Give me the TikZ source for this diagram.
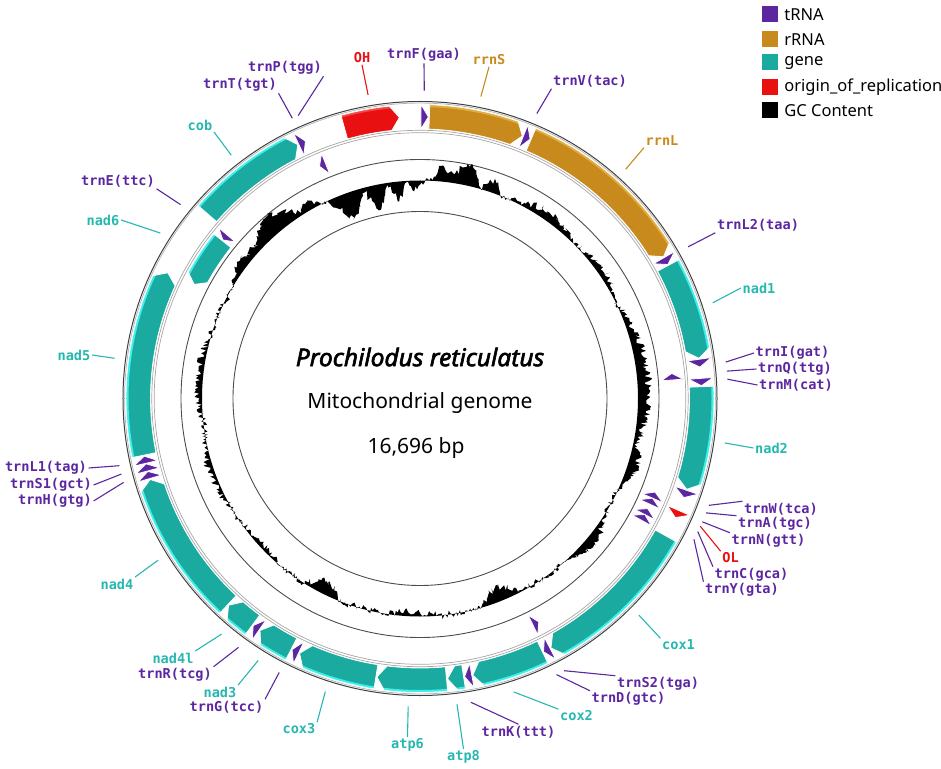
\documentclass[tikz,border=0pt]{standalone}
\usepackage{fontspec}
\setmainfont{Noto Sans}
\newfontfamily\titlefont{Noto Sans}[ItalicFeatures={FakeBold=2.4}]
\newfontfamily\labfont{DejaVu Sans Mono}
\usetikzlibrary{positioning}

\definecolor{trnacol}{RGB}{92,38,160}
\definecolor{rrnacol}{RGB}{200,138,28}
\definecolor{rrnashine}{RGB}{226,172,62}
\definecolor{genecol}{RGB}{26,170,160}
\definecolor{geneshine}{RGB}{60,240,236}
\definecolor{genetext}{RGB}{38,184,176}
\definecolor{oricol}{RGB}{232,16,16}
\definecolor{orishine}{RGB}{244,70,70}

% feature on the outer band, pointing clockwise: start, end (degrees from top), fill, shine
\newcommand{\cwfeat}[4]{%
  \pgfmathsetmacro{\fa}{90-#1}%
  \pgfmathsetmacro{\fb}{90-#2}%
  \pgfmathsetmacro{\fh}{\fb+min(1.8,#2-#1)}%
  \def\featpath{(\fa:269.5pt) -- (\fa:294pt) arc[start angle=\fa, end angle=\fh, radius=294pt]
    -- (\fb:281.75pt) -- (\fh:269.5pt) arc[start angle=\fh, end angle=\fa, radius=269.5pt] -- cycle}%
  \fill[#3] \featpath;
  \begin{scope}\clip \featpath; \draw[#4, line width=3pt] (0,0) circle[radius=293pt];\end{scope}
  \draw[white, line width=0.8pt] \featpath;}

% feature on the inner band, pointing anticlockwise
\newcommand{\ccwfeat}[4]{%
  \pgfmathsetmacro{\fa}{90-#1}%
  \pgfmathsetmacro{\fb}{90-#2}%
  \pgfmathsetmacro{\fh}{\fa-min(1.8,#2-#1)}%
  \def\featpath{(\fb:242pt) -- (\fb:264pt) arc[start angle=\fb, end angle=\fh, radius=264pt]
    -- (\fa:253pt) -- (\fh:242pt) arc[start angle=\fh, end angle=\fb, radius=242pt] -- cycle}%
  \fill[#3] \featpath;
  \begin{scope}\clip \featpath; \draw[#4, line width=3pt] (0,0) circle[radius=263pt];\end{scope}
  \draw[white, line width=0.8pt] \featpath;}

% GC content deviation from the mean
\pgfmathdeclarefunction{gcbump}{4}{\pgfmathparse{#4*(max(0,1-(min(abs(#1-(#2))/#3,2))^2))^2}}
\pgfmathdeclarefunction{gcdev}{1}{\pgfmathparse{gcbump(#1,-52,7,9)+gcbump(#1,-40,10,19)
  +gcbump(#1,-30,3,8)+gcbump(#1,-20,6,-24)+gcbump(#1,-12,4,-22)+gcbump(#1,-6,3,-17)
  +gcbump(#1,-1,2.5,-9)+gcbump(#1,6,4,14)+gcbump(#1,12,5,21)+gcbump(#1,19,3,13)
  +gcbump(#1,35,14,8)+gcbump(#1,55,10,6)+gcbump(#1,85,26,11)+gcbump(#1,108,7,9)
  +gcbump(#1,130,10,8)+gcbump(#1,158,7,-14)+gcbump(#1,183,10,-4)+gcbump(#1,207,6,-13)
  +gcbump(#1,228,10,-4)+gcbump(#1,250,12,5)+gcbump(#1,276,15,5)+4*rand}}

\begin{document}
\begin{tikzpicture}[x=1pt, y=1pt,
	trna lab/.style={font=\labfont\bfseries\fontsize{13.6}{16}\selectfont, text=trnacol, inner sep=1.5pt},
	rrna lab/.style={font=\labfont\bfseries\fontsize{13.6}{16}\selectfont, text=rrnacol, inner sep=1.5pt},
	gene lab/.style={font=\labfont\bfseries\fontsize{13.6}{16}\selectfont, text=genetext, inner sep=1.5pt},
	ori lab/.style={font=\labfont\bfseries\fontsize{13.6}{16}\selectfont, text=oricol, inner sep=1.5pt},
	trna line/.style={draw=trnacol, line width=1.1pt},
	rrna line/.style={draw=rrnacol, line width=1.1pt},
	gene line/.style={draw=genetext, line width=1.1pt},
	ori line/.style={draw=oricol, line width=1.1pt},
	leg box/.style={minimum size=16pt, inner sep=0pt},
	leg text/.style={font=\fontsize{16.5}{20}\selectfont, inner sep=1pt}]
	
	\useasboundingbox (-420,-369.5) rectangle (521,398.5);
	
	% rings
	\draw[black!70, line width=0.9pt] (0,0) circle[radius=187pt];
	\draw[black!70, line width=0.9pt] (0,0) circle[radius=239pt];
	\draw[gray!70, line width=0.7pt] (0,0) circle[radius=265.8pt];
	\draw[gray!70, line width=0.7pt] (0,0) circle[radius=268.2pt];
	\draw[gray!60, line width=0.7pt] (0,0) circle[radius=295.4pt];
	\draw[black!75, line width=1pt] (0,0) circle[radius=297pt];
	
	% GC content
	\pgfmathsetseed{11}
	\fill[black, even odd rule] plot[domain=-60:300, samples=901, variable=\t] ({90-\t}:{218+gcdev(\t)}) -- cycle
		(0,0) circle[radius=218pt];
	
	% features, outer band
	\cwfeat{0.2}{1.7}{trnacol}{trnacol}
	\cwfeat{1.9}{21.3}{rrnacol}{rrnashine}
	\cwfeat{21.5}{23.0}{trnacol}{trnacol}
	\cwfeat{23.2}{59.8}{rrnacol}{rrnashine}
	\cwfeat{60.0}{61.6}{trnacol}{trnacol}
	\cwfeat{61.8}{81.8}{genecol}{geneshine}
	\cwfeat{82.0}{83.6}{trnacol}{trnacol}
	\cwfeat{85.9}{87.4}{trnacol}{trnacol}
	\cwfeat{87.6}{108.8}{genecol}{geneshine}
	\cwfeat{109.0}{110.6}{trnacol}{trnacol}
	\cwfeat{113.4}{115.0}{oricol}{oricol}
	\cwfeat{119.2}{152.3}{genecol}{geneshine}
	\cwfeat{152.5}{154.0}{trnacol}{trnacol}
	\cwfeat{154.2}{169.2}{genecol}{geneshine}
	\cwfeat{169.4}{170.9}{trnacol}{trnacol}
	\cwfeat{171.1}{174.4}{genecol}{geneshine}
	\cwfeat{174.6}{188.8}{genecol}{geneshine}
	\cwfeat{189.0}{205.3}{genecol}{geneshine}
	\cwfeat{205.5}{207.0}{trnacol}{trnacol}
	\cwfeat{207.2}{214.6}{genecol}{geneshine}
	\cwfeat{214.8}{216.3}{trnacol}{trnacol}
	\cwfeat{216.5}{222.8}{genecol}{geneshine}
	\cwfeat{223.0}{253.3}{genecol}{geneshine}
	\cwfeat{253.5}{255.0}{trnacol}{trnacol}
	\cwfeat{255.1}{256.6}{trnacol}{trnacol}
	\cwfeat{256.7}{258.2}{trnacol}{trnacol}
	\cwfeat{258.4}{296.5}{genecol}{geneshine}
	\cwfeat{311.0}{334.3}{genecol}{geneshine}
	\cwfeat{334.5}{336.0}{trnacol}{trnacol}
	\cwfeat{344.4}{355.8}{oricol}{orishine}
	
	% features, inner band
	\ccwfeat{84.3}{85.8}{trnacol}{trnacol}
	\ccwfeat{111.7}{113.2}{trnacol}{trnacol}
	\ccwfeat{113.2}{114.7}{trnacol}{trnacol}
	\ccwfeat{115.8}{117.3}{trnacol}{trnacol}
	\ccwfeat{117.3}{118.8}{trnacol}{trnacol}
	\ccwfeat{152.0}{153.5}{trnacol}{trnacol}
	\ccwfeat{296.8}{308.6}{genecol}{geneshine}
	\ccwfeat{308.8}{310.3}{trnacol}{trnacol}
	\ccwfeat{336.6}{338.1}{trnacol}{trnacol}
	
	% centre
	\node[font=\titlefont\itshape\fontsize{24.5}{29}\selectfont] (title) at (0,41.5) {Prochilodus reticulatus};
	\node[font=\fontsize{21}{25}\selectfont] (subtitle) at (0,-4.5) {Mitochondrial genome};
	\node[font=\fontsize{21}{25}\selectfont] (length) at (-4,-49.5) {16,696 bp};
	
	% leader ends
	\coordinate (e-trnF) at (89.2:308pt);
	\coordinate (e-OH) at (99.7:308pt);
	\coordinate (e-rrnS) at (78.6:308pt);
	\coordinate (e-trnV) at (67.7:308pt);
	\coordinate (e-rrnL) at (48.1:308pt);
	\coordinate (e-trnL2) at (29.5:308pt);
	\coordinate (e-nad1) at (18.1:308pt);
	\coordinate (e-trnI) at (6.8:308pt);
	\coordinate (e-trnQ) at (5.1:308pt);
	\coordinate (e-trnM) at (3.6:308pt);
	\coordinate (e-nad2) at (-8.3:308pt);
	\coordinate (e-trnW) at (-20.3:308pt);
	\coordinate (e-trnA) at (-21.8:308pt);
	\coordinate (e-trnN) at (-23.6:308pt);
	\coordinate (e-OL) at (-24.5:308pt);
	\coordinate (e-trnC) at (-25.6:308pt);
	\coordinate (e-trnY) at (-27.2:308pt);
	\coordinate (e-cox1) at (-44.7:308pt);
	\coordinate (e-trnS2) at (-62.1:308pt);
	\coordinate (e-trnD) at (-63.7:308pt);
	\coordinate (e-cox2) at (-72.3:308pt);
	\coordinate (e-trnK) at (-80.5:308pt);
	\coordinate (e-atp8) at (-83.1:308pt);
	\coordinate (e-atp6) at (-92.2:308pt);
	\coordinate (e-cox3) at (-107.9:308pt);
	\coordinate (e-trnG) at (-117.2:308pt);
	\coordinate (e-nad3) at (-121.7:308pt);
	\coordinate (e-trnR) at (-126.1:308pt);
	\coordinate (e-nad4l) at (-130.1:308pt);
	\coordinate (e-nad4) at (-148.3:308pt);
	\coordinate (e-trnH) at (-164.2:308pt);
	\coordinate (e-trnS1) at (-165.8:308pt);
	\coordinate (e-trnL1) at (-167.4:308pt);
	\coordinate (e-nad5) at (172.5:308pt);
	\coordinate (e-nad6) at (147.5:308pt);
	\coordinate (e-trnE) at (141:308pt);
	\coordinate (e-cob) at (127.8:308pt);
	\coordinate (e-trnT) at (114.5:308pt);
	\coordinate (e-trnP) at (113.3:308pt);
	
	% labels
	\node[trna lab] (l-trnF) at (4,343.5) {trnF(gaa)};
	\node[ori lab] (l-OH) at (-58,340.5) {OH};
	\node[rrna lab] (l-rrnS) at (69,338.5) {rrnS};
	\node[trna lab] (l-trnV) at (170,317.5) {trnV(tac)};
	\node[rrna lab] (l-rrnL) at (242,257.5) {rrnL};
	\node[trna lab] (l-trnL2) at (338,173.5) {trnL2(taa)};
	\node[gene lab] (l-nad1) at (339,110.5) {nad1};
	\node[trna lab] (l-trnI) at (372.5,45.5) {trnI(gat)};
	\node[trna lab] (l-trnQ) at (375,29.5) {trnQ(ttg)};
	\node[trna lab] (l-trnM) at (376,13.5) {trnM(cat)};
	\node[gene lab] (l-nad2) at (351.5,-49.5) {nad2};
	\node[trna lab] (l-trnW) at (361,-110.5) {trnW(tca)};
	\node[trna lab] (l-trnA) at (355,-125.5) {trnA(tgc)};
	\node[trna lab] (l-trnN) at (348.5,-142.5) {trnN(gtt)};
	\node[ori lab] (l-OL) at (310.5,-159.5) {OL};
	\node[trna lab] (l-trnC) at (331.5,-176.5) {trnC(gca)};
	\node[trna lab] (l-trnY) at (322,-191.5) {trnY(gta)};
	\node[gene lab] (l-cox1) at (258.5,-246.5) {cox1};
	\node[trna lab] (l-trnS2) at (238,-285.5) {trnS2(tga)};
	\node[trna lab] (l-trnD) at (208.5,-300.5) {trnD(gtc)};
	\node[gene lab] (l-cox2) at (156.5,-317.5) {cox2};
	\node[trna lab] (l-trnK) at (98.5,-333.5) {trnK(ttt)};
	\node[gene lab] (l-atp8) at (43.5,-358.5) {atp8};
	\node[gene lab] (l-atp6) at (-12.5,-346.5) {atp6};
	\node[gene lab] (l-cox3) at (-121,-330.5) {cox3};
	\node[trna lab] (l-trnG) at (-193.5,-308.5) {trnG(tcc)};
	\node[gene lab] (l-nad3) at (-200,-293.5) {nad3};
	\node[trna lab] (l-trnR) at (-245,-276.5) {trnR(tcg)};
	\node[gene lab] (l-nad4l) at (-247,-259.5) {nad4l};
	\node[gene lab] (l-nad4) at (-303,-185.5) {nad4};
	\node[trna lab] (l-trnH) at (-365,-102.5) {trnH(gtg)};
	\node[trna lab] (l-trnS1) at (-369,-86.5) {trnS1(gct)};
	\node[trna lab] (l-trnL1) at (-374,-69.5) {trnL1(tag)};
	\node[gene lab] (l-nad5) at (-346,43.5) {nad5};
	\node[gene lab] (l-nad6) at (-317,178.5) {nad6};
	\node[trna lab] (l-trnE) at (-302,217.5) {trnE(ttc)};
	\node[gene lab] (l-cob) at (-220,273.5) {cob};
	\node[trna lab] (l-trnT) at (-180,313.5) {trnT(tgt)};
	\node[trna lab] (l-trnP) at (-135,330.5) {trnP(tgg)};
	
	\path (l-trnF.south) edge[trna line] (e-trnF)
	(l-OH.south) edge[ori line] (e-OH)
	(l-rrnS.south) edge[rrna line] (e-rrnS)
	(l-trnV.south west) edge[trna line] (e-trnV)
	(l-rrnL.south west) edge[rrna line] (e-rrnL)
	(l-trnL2.south west) edge[trna line] (e-trnL2)
	(l-nad1.west) edge[gene line] (e-nad1)
	(l-trnI.west) edge[trna line] (e-trnI)
	(l-trnQ.west) edge[trna line] (e-trnQ)
	(l-trnM.west) edge[trna line] (e-trnM)
	(l-nad2.west) edge[gene line] (e-nad2)
	(l-trnW.north west) edge[trna line] (e-trnW)
	(l-trnA.north west) edge[trna line] (e-trnA)
	(l-trnN.north west) edge[trna line] (e-trnN)
	(l-OL.north west) edge[ori line] (e-OL)
	(l-trnC.north west) edge[trna line] (e-trnC)
	(l-trnY.north west) edge[trna line] (e-trnY)
	(l-cox1.north west) edge[gene line] (e-cox1)
	(l-trnS2.north west) edge[trna line] (e-trnS2)
	(l-trnD.north west) edge[trna line] (e-trnD)
	(l-cox2.north west) edge[gene line] (e-cox2)
	(l-trnK.north) edge[trna line] (e-trnK)
	(l-atp8.north) edge[gene line] (e-atp8)
	(l-atp6.north) edge[gene line] (e-atp6)
	(l-cox3.north east) edge[gene line] (e-cox3)
	(l-trnG.north east) edge[trna line] (e-trnG)
	(l-nad3.north east) edge[gene line] (e-nad3)
	(l-trnR.north east) edge[trna line] (e-trnR)
	(l-nad4l.north east) edge[gene line] (e-nad4l)
	(l-nad4.north east) edge[gene line] (e-nad4)
	(l-trnH.east) edge[trna line] (e-trnH)
	(l-trnS1.east) edge[trna line] (e-trnS1)
	(l-trnL1.east) edge[trna line] (e-trnL1)
	(l-nad5.east) edge[gene line] (e-nad5)
	(l-nad6.east) edge[gene line] (e-nad6)
	(l-trnE.south east) edge[trna line] (e-trnE)
	(l-cob.south east) edge[gene line] (e-cob)
	(l-trnT.south east) edge[trna line] (e-trnT)
	(l-trnP.south east) edge[trna line] (e-trnP);
	
	% legend
	\node[leg box, fill=trnacol] (k-trna) at (350,384) {};
	\node[leg box, fill=rrnacol] (k-rrna) at (350,359) {};
	\node[leg box, fill=genecol] (k-gene) at (350,336) {};
	\node[leg box, fill=oricol] (k-ori) at (350,311) {};
	\node[leg box, fill=black] (k-gc) at (350,288) {};
	\node[leg text, right=5pt of k-trna] (t-trna) {tRNA};
	\node[leg text, right=5pt of k-rrna] (t-rrna) {rRNA};
	\node[leg text, right=5pt of k-gene] (t-gene) {gene};
	\node[leg text, right=5pt of k-ori] (t-ori) {origin\_of\_replication};
	\node[leg text, right=5pt of k-gc] (t-gc) {GC Content};
\end{tikzpicture}
\end{document}
